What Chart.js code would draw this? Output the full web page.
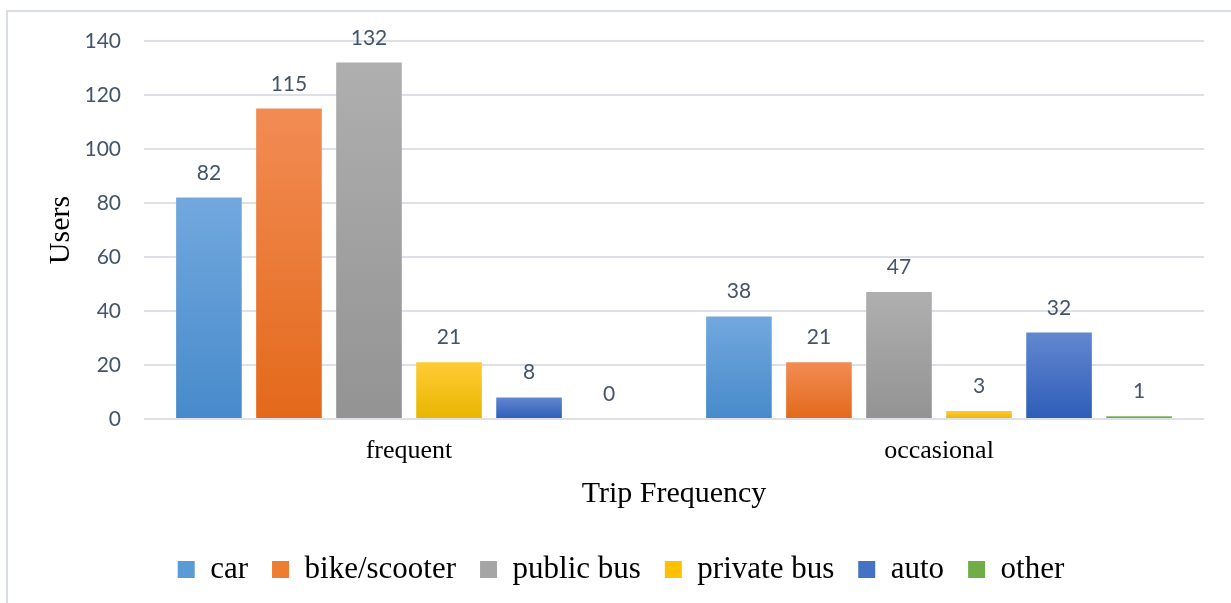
<!DOCTYPE html>
<html>
<head>
<meta charset="utf-8">
<title>Users by Trip Frequency</title>
<script src="https://cdn.jsdelivr.net/npm/chart.js@4/dist/chart.umd.min.js"></script>
<style>
  html, body { margin: 0; padding: 0; background: #ffffff; }
  #c { display: block; }
</style>
</head>
<body>
<canvas id="c" width="1231" height="603"></canvas>
<script>
// Categories and series values
const categories = ['frequent', 'occasional'];
const seriesNames = ['car', 'bike/scooter', 'public bus', 'private bus', 'auto', 'other'];
const car = [82, 38];
const bikeScooter = [115, 21];
const publicBus = [132, 47];
const privateBus = [21, 3];
const auto = [8, 32];
const other = [0, 1];
const yTicks = [0, 20, 40, 60, 80, 100, 120, 140];

// Vertical gradient for each series: [top, bottom, legend swatch]
const palette = [
  ['#72A8DE', '#478ACB', '#5B9BD5'],
  ['#F28C54', '#E3691A', '#ED7D31'],
  ['#AFAFAF', '#939393', '#A5A5A5'],
  ['#FFCB35', '#E8B600', '#FFC000'],
  ['#6287CF', '#2E5DB8', '#4472C4'],
  ['#79B552', '#64A23B', '#70AD47']
];

const LABEL_COLOR = '#44546A';
const GRID_COLOR = '#DDE1E7';
const SANS = 'Lato, "Open Sans", sans-serif';
const SERIF = '"Liberation Serif", "Times New Roman", serif';

function gradientFill(idx) {
  return function (ctx) {
    const c = palette[idx];
    if (ctx.type !== 'data') return c[2];
    const chart = ctx.chart;
    const ys = chart.scales && chart.scales.y;
    if (!ys) return c[2];
    const top = ys.getPixelForValue(ctx.raw);
    const base = ys.getPixelForValue(0);
    if (!isFinite(top) || !isFinite(base) || base - top < 1) return c[2];
    const g = chart.ctx.createLinearGradient(0, top, 0, base);
    g.addColorStop(0, c[0]);
    g.addColorStop(1, c[1]);
    return g;
  };
}

const seriesValues = [car, bikeScooter, publicBus, privateBus, auto, other];
const datasets = seriesValues.map((vals, i) => ({
  label: seriesNames[i],
  data: vals,
  backgroundColor: gradientFill(i),
  borderWidth: 0,
  barPercentage: 0.82,
  categoryPercentage: 0.906
}));

// Light frame around the chart
const framePlugin = {
  id: 'frame',
  beforeDraw(chart) {
    const ctx = chart.ctx;
    ctx.save();
    ctx.fillStyle = '#ffffff';
    ctx.fillRect(0, 0, chart.width, chart.height);
    ctx.strokeStyle = '#D9DEE5';
    ctx.lineWidth = 2;
    ctx.strokeRect(7, 11, chart.width + 20, chart.height + 20);
    ctx.restore();
  }
};

// Value labels above every bar
const valueLabels = {
  id: 'valueLabels',
  afterDatasetsDraw(chart) {
    const ctx = chart.ctx;
    ctx.save();
    ctx.font = '21px ' + SANS;
    ctx.fillStyle = LABEL_COLOR;
    ctx.textAlign = 'center';
    ctx.textBaseline = 'alphabetic';
    chart.data.datasets.forEach((ds, di) => {
      const meta = chart.getDatasetMeta(di);
      meta.data.forEach((bar, i) => {
        ctx.fillText(String(ds.data[i]), bar.x, bar.y - 18);
      });
    });
    ctx.restore();
  }
};

new Chart(document.getElementById('c'), {
  type: 'bar',
  data: { labels: categories, datasets },
  plugins: [framePlugin, valueLabels],
  options: {
    responsive: false,
    devicePixelRatio: 1,
    animation: false,
    layout: { padding: { left: 38, right: 27, top: 41, bottom: 8 } },
    plugins: {
      tooltip: { enabled: false },
      legend: {
        position: 'bottom',
        labels: {
          boxWidth: 17,
          boxHeight: 17,
          padding: 24,
          color: '#000000',
          font: { family: SERIF, size: 31 },
          generateLabels(chart) {
            return chart.data.datasets.map((ds, i) => ({
              text: ds.label,
              fillStyle: palette[i][2],
              strokeStyle: palette[i][2],
              lineWidth: 0,
              hidden: false,
              datasetIndex: i
            }));
          }
        }
      }
    },
    scales: {
      x: {
        grid: { display: false, drawTicks: false },
        border: { display: false },
        ticks: { color: '#000000', font: { family: SERIF, size: 26 }, padding: 17 },
        title: {
          display: true,
          text: 'Trip Frequency',
          color: '#000000',
          font: { family: SERIF, size: 30 },
          padding: { top: 0, bottom: 18 }
        },
        afterFit(s) { s.height = 111; }
      },
      y: {
        min: 0,
        max: 140,
        grid: { color: GRID_COLOR, lineWidth: 2, drawTicks: false },
        border: { display: false },
        ticks: { color: LABEL_COLOR, font: { family: SANS, size: 21 }, padding: 23 },
        afterBuildTicks(s) { s.ticks = yTicks.map(v => ({ value: v })); },
        title: {
          display: true,
          text: 'Users',
          color: '#000000',
          font: { family: SERIF, size: 30 },
          padding: { top: 5, bottom: 0 }
        },
        afterFit(s) { s.width = 106; }
      }
    }
  }
});
</script>
</body>
</html>
